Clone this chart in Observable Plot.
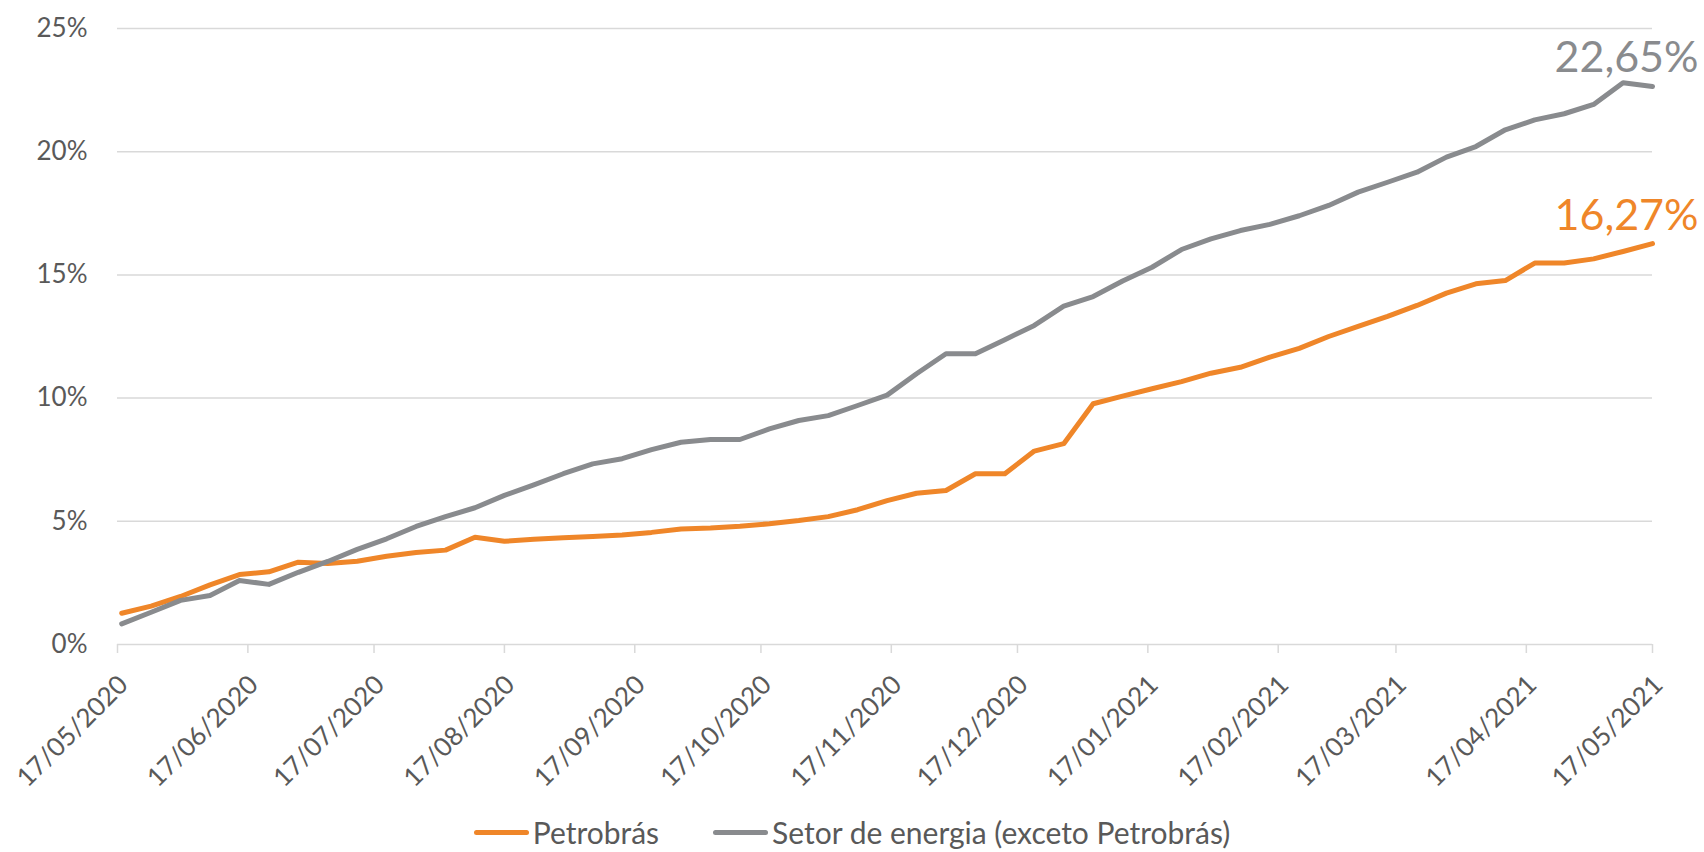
<!DOCTYPE html>
<html><head><meta charset="utf-8">
<script src="https://cdn.jsdelivr.net/npm/d3@7"></script>
<script src="https://cdn.jsdelivr.net/npm/@observablehq/plot@0.6"></script>
<style>
html,body{margin:0;background:#fff;font-family:Lato, sans-serif;overflow:hidden;}
#chart{height:800px;}
#legend{height:36px;padding-top:14px;display:flex;justify-content:center;align-items:center;font-size:30px;line-height:36px;color:#595959;}
.item{display:flex;align-items:center;margin:0 27px;}
.sw{display:inline-block;width:55px;height:5px;border-radius:3px;margin-right:4px;}
</style></head><body><div id="chart"></div><div id="legend"></div>
<script>
const dates = ["2020-05-18","2020-05-25","2020-06-01","2020-06-08","2020-06-15","2020-06-22","2020-06-29","2020-07-06","2020-07-13","2020-07-20","2020-07-27","2020-08-03","2020-08-10","2020-08-17","2020-08-24","2020-08-31","2020-09-07","2020-09-14","2020-09-21","2020-09-28","2020-10-05","2020-10-12","2020-10-19","2020-10-26","2020-11-02","2020-11-09","2020-11-16","2020-11-23","2020-11-30","2020-12-07","2020-12-14","2020-12-21","2020-12-28","2021-01-04","2021-01-11","2021-01-18","2021-01-25","2021-02-01","2021-02-08","2021-02-15","2021-02-22","2021-03-01","2021-03-08","2021-03-15","2021-03-22","2021-03-29","2021-04-05","2021-04-12","2021-04-19","2021-04-26","2021-05-03","2021-05-10","2021-05-17"];
const petrobras = [1.27,1.56,1.95,2.42,2.84,2.95,3.34,3.29,3.38,3.58,3.73,3.83,4.35,4.19,4.27,4.33,4.38,4.44,4.55,4.69,4.73,4.80,4.90,5.03,5.19,5.47,5.84,6.14,6.25,6.93,6.93,7.85,8.15,9.77,10.08,10.38,10.67,11.01,11.25,11.66,12.02,12.50,12.91,13.32,13.76,14.26,14.64,14.77,15.48,15.48,15.65,15.95,16.27];
const setorEnergia = [0.84,1.31,1.79,1.99,2.60,2.44,2.93,3.37,3.86,4.29,4.79,5.19,5.55,6.05,6.48,6.93,7.33,7.54,7.91,8.21,8.32,8.32,8.75,9.09,9.29,9.70,10.12,10.99,11.80,11.80,12.37,12.95,13.73,14.12,14.75,15.31,16.03,16.46,16.80,17.05,17.40,17.82,18.36,18.76,19.17,19.78,20.21,20.89,21.29,21.54,21.92,22.80,22.65];
const seriesNames = ["Petrobrás","Setor de energia (exceto Petrobrás)"];
const seriesColors = ["#EF8629","#898B8E"];
const endLabels = ["16,27%","22,65%"];
const xTickDates = ["2020-05-17","2020-06-17","2020-07-17","2020-08-17","2020-09-17","2020-10-17","2020-11-17","2020-12-17","2021-01-17","2021-02-17","2021-03-17","2021-04-17","2021-05-17"];
const yTicks = [0,5,10,15,20,25];

const parse = d3.utcParse("%Y-%m-%d");
const rows = [];
dates.forEach((d,i)=>{
  rows.push({date:parse(d), value:petrobras[i], series:seriesNames[0]});
  rows.push({date:parse(d), value:setorEnergia[i], series:seriesNames[1]});
});
const n = dates.length - 1;
const lastPts = [
  {date:parse(dates[n]), value:petrobras[n], series:seriesNames[0], label:endLabels[0]},
  {date:parse(dates[n]), value:setorEnergia[n], series:seriesNames[1], label:endLabels[1]}
];
const xt = xTickDates.map(parse);

const chart = Plot.plot({
  width:1704, height:800, marginTop:28, marginBottom:156, marginLeft:117, marginRight:52,
  style:{fontFamily:"Lato, sans-serif", fontSize:"26px", color:"#595959", background:"#fff", overflow:"visible"},
  x:{type:"utc", domain:[xt[0], xt[xt.length-1]]},
  y:{domain:[0,25]},
  color:{domain:seriesNames, range:seriesColors},
  marks:[
    Plot.gridY(yTicks,{stroke:"#D9D9D9", strokeOpacity:1, strokeWidth:1.5}),
    Plot.axisY(yTicks,{tickSize:0, tickPadding:30, tickFormat:d=>d+"%", fill:"#595959", fontSize:26, label:null}),
    Plot.axisX(xt,{tickSize:9, stroke:"#D9D9D9", strokeOpacity:1, strokeWidth:1.5, tickFormat:()=>"", label:null}),
    Plot.axisX(xt,{tickSize:0, tickRotate:-45, tickPadding:36, dx:6, tickFormat:d3.utcFormat("%d/%m/%Y"), fill:"#595959", fontSize:26, label:null}),
    Plot.lineY(rows,{x:"date", y:"value", stroke:"series", strokeWidth:5, strokeLinejoin:"round", strokeLinecap:"round"}),
    Plot.text(lastPts,{x:"date", y:"value", text:"label", fill:"series", textAnchor:"end", lineAnchor:"bottom", dx:46, dy:-14, fontSize:43})
  ]
});
document.getElementById("chart").appendChild(chart);

const lg = document.getElementById("legend");
seriesNames.forEach((s,i)=>{
  const it = document.createElement("div"); it.className="item";
  const sw = document.createElement("span"); sw.className="sw"; sw.style.background=seriesColors[i];
  const tx = document.createElement("span"); tx.textContent=s;
  it.appendChild(sw); it.appendChild(tx); lg.appendChild(it);
});
</script></body></html>
